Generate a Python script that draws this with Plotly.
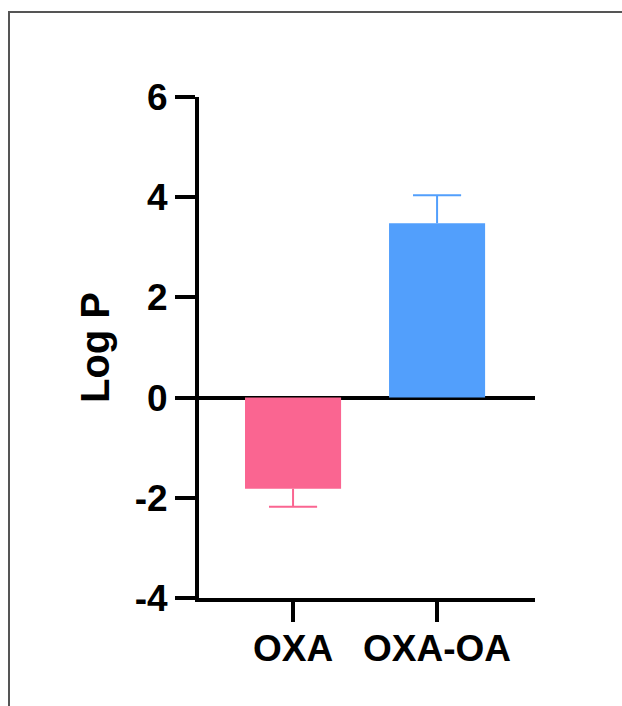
import plotly.graph_objects as go

categories = ["OXA", "OXA-OA"]
means = [-1.82, 3.48]
errors = [0.36, 0.56]
colors = ["#FA6591", "#529FFC"]
y_ticks = [-4, -2, 0, 2, 4, 6]
y_tick_text = ["-4", "-2", "0", "2", "4", "6"]

W, H = 622, 706
L, R, T, B = 199, 87, 97, 108
pw, ph = W - L - R, H - T - B
bar_w = 0.667
cap_half = 0.167

fig = go.Figure()
xs = list(range(len(categories)))
for i, m, e, col in zip(xs, means, errors, colors):
    fig.add_trace(go.Bar(
        x=[i], y=[m], width=bar_w, marker=dict(color=col, line=dict(width=0)),
        showlegend=False,
    ))
for i, m, e, col in zip(xs, means, errors, colors):
    tip = m + e if m >= 0 else m - e
    fig.add_trace(go.Scatter(
        x=[i, i, None, i - cap_half, i + cap_half], y=[m, tip, None, tip, tip],
        mode="lines", line=dict(color=col, width=2), showlegend=False, hoverinfo="skip",
    ))

font_family = "Liberation Sans, Arial, sans-serif"
fig.update_layout(
    width=W, height=H, margin=dict(l=L, r=R, t=T, b=B),
    paper_bgcolor="white", plot_bgcolor="white", barmode="overlay",
    font=dict(family=font_family, color="black"),
    xaxis=dict(range=[-0.653, 1.68], tickvals=xs, ticktext=categories,
               showline=True, linewidth=4, linecolor="black",
               ticks="outside", ticklen=20, tickwidth=4, tickcolor="black",
               ticklabelstandoff=-5,
               tickfont=dict(size=37, family=font_family, weight="bold"),
               showgrid=False, zeroline=False, fixedrange=True),
    yaxis=dict(range=[-4, 6], tickvals=y_ticks, ticktext=y_tick_text,
               showline=True, linewidth=4, linecolor="black",
               ticks="outside", ticklen=20, tickwidth=4, tickcolor="black",
               tickfont=dict(size=37, family=font_family, weight="bold"),
               showgrid=False, zeroline=True, zerolinecolor="black", zerolinewidth=4,
               title=dict(text="Log P", font=dict(size=40, family=font_family, weight="bold"), standoff=14),
               fixedrange=True),
    shapes=[dict(type="rect", xref="paper", yref="paper",
                 x0=(9 - L) / pw, x1=(W + 20 - L) / pw,
                 y0=(H - B - (H + 20)) / ph, y1=(H - B - 12) / ph,
                 line=dict(color="#555555", width=2), fillcolor="rgba(0,0,0,0)", layer="below")],
)

fig.write_html("out.html")
